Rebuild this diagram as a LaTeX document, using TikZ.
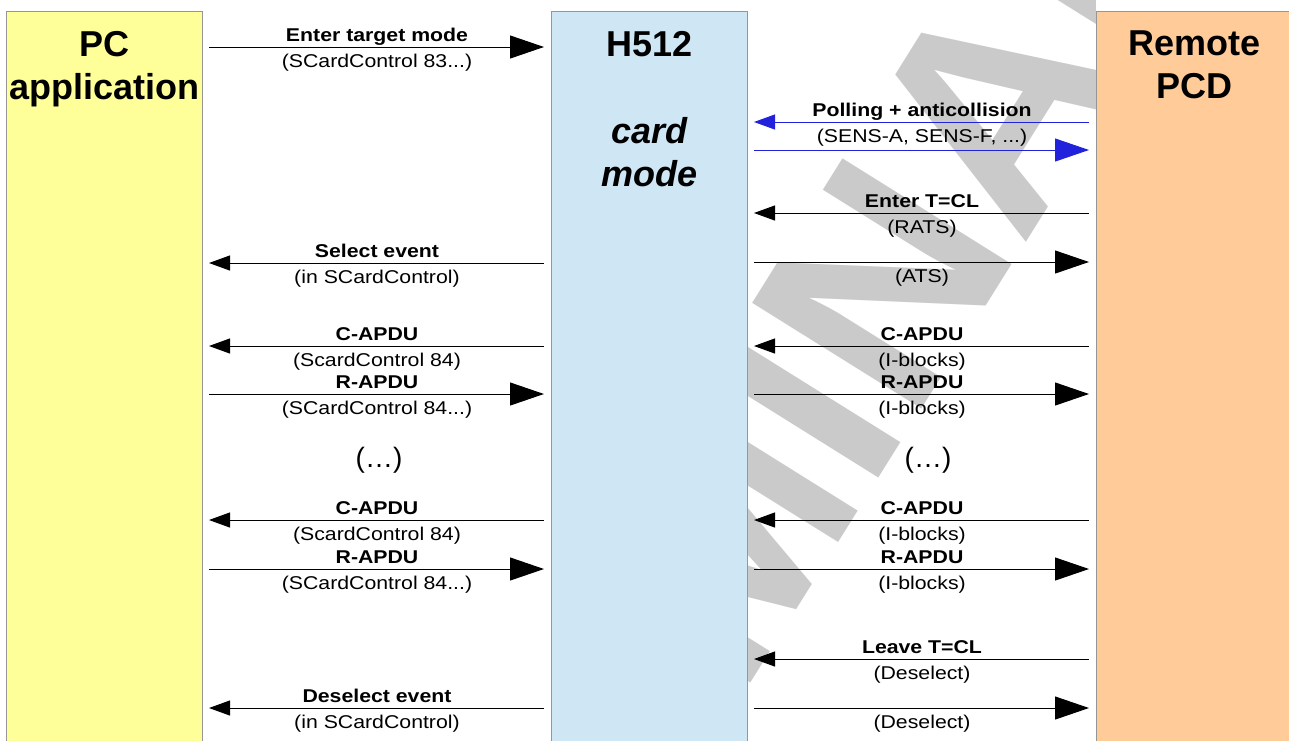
\documentclass[tikz,border=0pt]{standalone}
\usepackage{fontspec}
\setmainfont{Liberation Sans}
\newfontfamily\lblfont[FakeStretch=1.15]{Liberation Sans}
\usetikzlibrary{arrows.meta}
\definecolor{pcyellow}{RGB}{255,255,153}
\definecolor{cardblue}{RGB}{207,231,245}
\definecolor{pcdorange}{RGB}{255,204,153}
\definecolor{lanegray}{RGB}{150,150,150}
\definecolor{pollblue}{RGB}{34,34,221}
\definecolor{wmgray}{RGB}{202,202,202}
\newcommand*\lblsize{\fontsize{18.5}{22}\selectfont}
\tikzset{
    lane/.style      = {draw=lanegray, line width=1pt, anchor=north west,
                        inner sep=0pt, minimum width=196pt, minimum height=760pt},
    lanetitle/.style = {font=\fontsize{36}{43}\selectfont\bfseries,
                        align=center, anchor=north, inner sep=0pt},
    msg/.style       = {line width=1pt, shorten <=6pt, shorten >=7pt},
    fwd/.style       = {msg, -{Triangle[length=34pt,width=23pt]}},
    back/.style      = {msg, {Triangle[length=21pt,width=15pt]}-},
    toplbl/.style    = {font=\lblfont\lblsize\bfseries, anchor=base,
                        yshift=6pt, inner sep=0pt, text=black},
    botlbl/.style    = {font=\lblfont\lblsize, anchor=base,
                        yshift=-20pt, inner sep=0pt, text=black},
    gap/.style       = {font=\fontsize{28}{30}\selectfont, inner sep=0pt},
    wmark/.style     = {font=\fontsize{290}{290}\selectfont\bfseries,
                        text=wmgray, inner sep=0pt},
}
\begin{document}
\begin{tikzpicture}[x=1pt, y=-1pt]
    \useasboundingbox (0,0) rectangle (1289,740);
    \clip (0,0) rectangle (1289,740);

    % the three lanes
    \node[lane, fill=pcyellow]  (pc)    at (6,11)    {};
    \node[lane, fill=cardblue]  (hcard) at (551,11)  {};
    \node[lane, fill=pcdorange] (pcd)   at (1096,11) {};

    % watermark, only seen between H512 and the remote PCD
    \begin{scope}
        \clip ([xshift=0.5pt]hcard.east |- 0,0) rectangle ([xshift=-0.5pt]pcd.west |- 0,740);
        \node[wmark, rotate=58] (wm) at (730,528) {PRELIMINARY};
    \end{scope}

    % lane titles
    \node[lanetitle] (pctitle)  at (pc.north |- 0,31)  {PC\\application};
    \node[lanetitle] (htitle)   at (hcard.north |- 0,31) {H512};
    \node[lanetitle, font=\fontsize{36}{43}\selectfont\bfseries\itshape]
        (modetitle) at (hcard.north |- 0,117) {card\\mode};
    \node[lanetitle] (pcdtitle) at (pcd.north |- 0,31) {Remote\\PCD};

    % PC application <-> H512
    \draw[fwd]  (pc.east |- 0,47)  -- node[toplbl] {Enter target mode}
        node[botlbl] {(SCardControl 83...)} (hcard.west |- 0,47);
    \draw[back] (pc.east |- 0,263) -- node[toplbl] {Select event}
        node[botlbl] {(in SCardControl)} (hcard.west |- 0,263);
    \draw[back] (pc.east |- 0,346) -- node[toplbl] {C-APDU}
        node[botlbl] {(ScardControl 84)} (hcard.west |- 0,346);
    \draw[fwd]  (pc.east |- 0,394) -- node[toplbl] {R-APDU}
        node[botlbl] {(SCardControl 84...)} (hcard.west |- 0,394);
    \node[gap] (gapl) at (379,460) {(…)};
    \draw[back] (pc.east |- 0,520) -- node[toplbl] {C-APDU}
        node[botlbl] {(ScardControl 84)} (hcard.west |- 0,520);
    \draw[fwd]  (pc.east |- 0,569) -- node[toplbl] {R-APDU}
        node[botlbl] {(SCardControl 84...)} (hcard.west |- 0,569);
    \draw[back] (pc.east |- 0,708) -- node[toplbl] {Deselect event}
        node[botlbl] {(in SCardControl)} (hcard.west |- 0,708);

    % H512 <-> Remote PCD
    \draw[back, pollblue] (hcard.east |- 0,122) -- node[toplbl] {Polling + anticollision}
        node[botlbl] {(SENS-A, SENS-F, ...)} (pcd.west |- 0,122);
    \draw[fwd, pollblue]  (hcard.east |- 0,150) -- (pcd.west |- 0,150);
    \draw[back] (hcard.east |- 0,213) -- node[toplbl] {Enter T=CL}
        node[botlbl] {(RATS)} (pcd.west |- 0,213);
    \draw[fwd]  (hcard.east |- 0,262) -- node[botlbl] {(ATS)} (pcd.west |- 0,262);
    \draw[back] (hcard.east |- 0,346) -- node[toplbl] {C-APDU}
        node[botlbl] {(I-blocks)} (pcd.west |- 0,346);
    \draw[fwd]  (hcard.east |- 0,394) -- node[toplbl] {R-APDU}
        node[botlbl] {(I-blocks)} (pcd.west |- 0,394);
    \node[gap] (gapr) at (928,460) {(…)};
    \draw[back] (hcard.east |- 0,520) -- node[toplbl] {C-APDU}
        node[botlbl] {(I-blocks)} (pcd.west |- 0,520);
    \draw[fwd]  (hcard.east |- 0,569) -- node[toplbl] {R-APDU}
        node[botlbl] {(I-blocks)} (pcd.west |- 0,569);
    \draw[back] (hcard.east |- 0,659) -- node[toplbl] {Leave T=CL}
        node[botlbl] {(Deselect)} (pcd.west |- 0,659);
    \draw[fwd]  (hcard.east |- 0,708) -- node[botlbl] {(Deselect)} (pcd.west |- 0,708);
\end{tikzpicture}
\end{document}
